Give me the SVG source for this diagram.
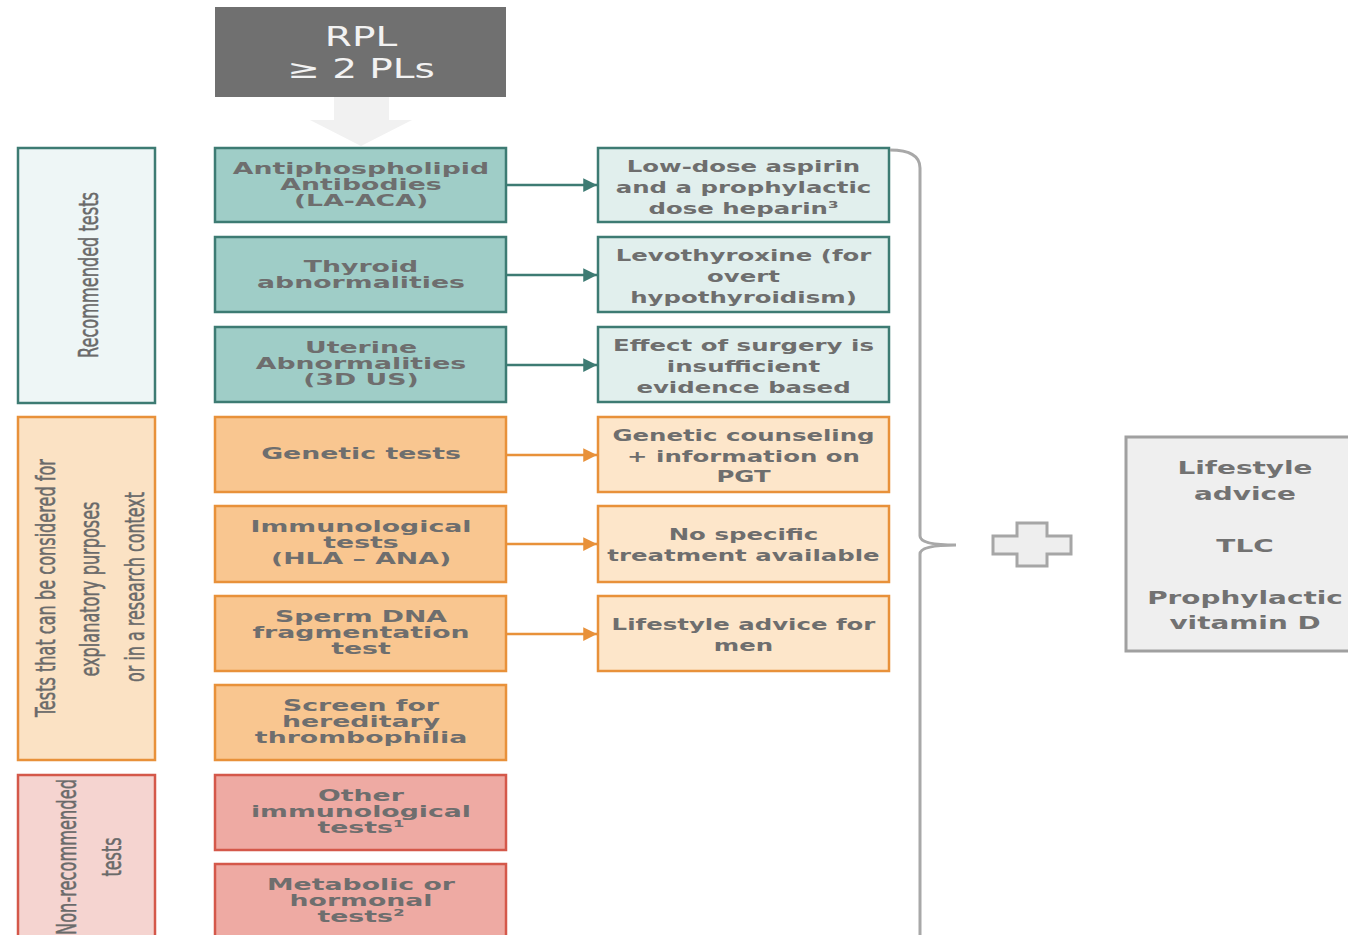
<svg xmlns="http://www.w3.org/2000/svg" width="1348" height="935" viewBox="0 0 1348 935">
<defs>
<style>
.tm{font-family:"DejaVu Sans","Liberation Sans",sans-serif;font-weight:bold;font-size:16.5px;fill:#6e6e6e;text-anchor:middle}
.tr{font-family:"DejaVu Sans","Liberation Sans",sans-serif;font-weight:bold;font-size:16.5px;fill:#6e6e6e;text-anchor:middle}
.tg{font-family:"DejaVu Sans","Liberation Sans",sans-serif;font-weight:bold;font-size:18px;fill:#727272;text-anchor:middle}
.tt{font-family:"DejaVu Sans","Liberation Sans",sans-serif;font-size:26px;fill:#f2f2f2;text-anchor:middle}
.tc{font-family:"DejaVu Sans Condensed","Liberation Sans",Arial,sans-serif;font-size:27px;fill:#6a6a6a;stroke:#6a6a6a;stroke-width:0.5;text-anchor:middle}
.teal{fill:#9fcdc7;stroke:#3d7b73;stroke-width:2.5}
.teall{fill:#e1efed;stroke:#3d7b73;stroke-width:2.5}
.tealc{fill:#eef6f6;stroke:#3d7b73;stroke-width:2.5}
.org{fill:#f9c690;stroke:#e8913a;stroke-width:2.5}
.orgl{fill:#fde6ca;stroke:#e8913a;stroke-width:2.5}
.orgc{fill:#fbe2c4;stroke:#e8913a;stroke-width:2.5}
.red{fill:#eeaaa3;stroke:#d4584a;stroke-width:2.5}
.redc{fill:#f5d4d0;stroke:#d4584a;stroke-width:2.5}
.at{stroke:#3d7b73;stroke-width:2.5;fill:none;marker-end:url(#mt)}
.ao{stroke:#e8913a;stroke-width:2.5;fill:none;marker-end:url(#mo)}
</style>
<marker id="mt" viewBox="0 0 10 10" refX="10" refY="5" markerWidth="5.5" markerHeight="5.5" orient="auto" markerUnits="strokeWidth"><path d="M0,0 L10,5 L0,10 Z" fill="#3d7b73"/></marker>
<marker id="mo" viewBox="0 0 10 10" refX="10" refY="5" markerWidth="5.5" markerHeight="5.5" orient="auto" markerUnits="strokeWidth"><path d="M0,0 L10,5 L0,10 Z" fill="#e8913a"/></marker>
</defs>
<rect width="1348" height="935" fill="#ffffff"/>

<g id="top">
<rect x="215" y="7" width="291" height="90" fill="#707070"/>
<text class="tt" transform="translate(361,0) scale(1.5,1)"><tspan x="0" y="46">RPL</tspan><tspan x="0" y="78">≥ 2 PLs</tspan></text>
<path d="M334,97 H389 V120 H412 L361,146 L310,120 H334 Z" fill="#f1f1f1"/>
</g>

<g id="cat-recommended">
<rect class="tealc" x="18" y="148" width="137" height="255"/>
<text class="tc" transform="translate(98,275) rotate(-90)" x="0" y="0" textLength="166" lengthAdjust="spacingAndGlyphs">Recommended tests</text>
</g>
<g id="cat-considered">
<rect class="orgc" x="18" y="417" width="137" height="343"/>
<text class="tc" transform="translate(55,588) rotate(-90)" x="0" y="0" textLength="258" lengthAdjust="spacingAndGlyphs">Tests that can be considered for</text>
<text class="tc" transform="translate(99,589) rotate(-90)" x="0" y="0" textLength="175" lengthAdjust="spacingAndGlyphs">explanatory purposes</text>
<text class="tc" transform="translate(144,587) rotate(-90)" x="0" y="0" textLength="190" lengthAdjust="spacingAndGlyphs">or in a research context</text>
</g>
<g id="cat-nonrecommended">
<rect class="redc" x="18" y="775" width="137" height="170"/>
<text class="tc" transform="translate(76,857) rotate(-90)" x="0" y="0" textLength="156" lengthAdjust="spacingAndGlyphs">Non-recommended</text>
<text class="tc" transform="translate(121,857) rotate(-90)" x="0" y="0" textLength="39" lengthAdjust="spacingAndGlyphs">tests</text>
</g>

<g id="test-apa">
<rect class="teal" x="215" y="148" width="291" height="74"/>
<text class="tm" transform="translate(361,0) scale(1.62,1)"><tspan x="0" y="174">Antiphospholipid</tspan><tspan x="0" y="190">Antibodies</tspan><tspan x="0" y="206">(LA-ACA)</tspan></text>
</g>
<g id="test-thyroid">
<rect class="teal" x="215" y="237" width="291" height="75"/>
<text class="tm" transform="translate(361,0) scale(1.62,1)"><tspan x="0" y="272">Thyroid</tspan><tspan x="0" y="288">abnormalities</tspan></text>
</g>
<g id="test-uterine">
<rect class="teal" x="215" y="327" width="291" height="75"/>
<text class="tm" transform="translate(361,0) scale(1.62,1)"><tspan x="0" y="353">Uterine</tspan><tspan x="0" y="369">Abnormalities</tspan><tspan x="0" y="385">(3D US)</tspan></text>
</g>
<g id="test-genetic">
<rect class="org" x="215" y="417" width="291" height="75"/>
<text class="tm" transform="translate(361,0) scale(1.62,1)"><tspan x="0" y="459">Genetic tests</tspan></text>
</g>
<g id="test-immuno">
<rect class="org" x="215" y="506" width="291" height="76"/>
<text class="tm" transform="translate(361,0) scale(1.62,1)"><tspan x="0" y="532">Immunological</tspan><tspan x="0" y="548">tests</tspan><tspan x="0" y="564">(HLA – ANA)</tspan></text>
</g>
<g id="test-sperm">
<rect class="org" x="215" y="596" width="291" height="75"/>
<text class="tm" transform="translate(361,0) scale(1.62,1)"><tspan x="0" y="622">Sperm DNA</tspan><tspan x="0" y="638">fragmentation</tspan><tspan x="0" y="654">test</tspan></text>
</g>
<g id="test-thrombophilia">
<rect class="org" x="215" y="685" width="291" height="75"/>
<text class="tm" transform="translate(361,0) scale(1.62,1)"><tspan x="0" y="711">Screen for</tspan><tspan x="0" y="727">hereditary</tspan><tspan x="0" y="743">thrombophilia</tspan></text>
</g>
<g id="test-other-immuno">
<rect class="red" x="215" y="775" width="291" height="75"/>
<text class="tm" transform="translate(361,0) scale(1.62,1)"><tspan x="0" y="801">Other</tspan><tspan x="0" y="817">immunological</tspan><tspan x="0" y="833">tests¹</tspan></text>
</g>
<g id="test-metabolic">
<rect class="red" x="215" y="864" width="291" height="80"/>
<text class="tm" transform="translate(361,0) scale(1.62,1)"><tspan x="0" y="890">Metabolic or</tspan><tspan x="0" y="906">hormonal</tspan><tspan x="0" y="922">tests²</tspan></text>
</g>

<g id="tx-aspirin">
<rect class="teall" x="598" y="148" width="291" height="74"/>
<text class="tr" transform="translate(743.5,0) scale(1.48,1)"><tspan x="0" y="172">Low-dose aspirin</tspan><tspan x="0" y="193">and a prophylactic</tspan><tspan x="0" y="214">dose heparin³</tspan></text>
</g>
<g id="tx-levo">
<rect class="teall" x="598" y="237" width="291" height="75"/>
<text class="tr" transform="translate(743.5,0) scale(1.48,1)"><tspan x="0" y="261">Levothyroxine (for</tspan><tspan x="0" y="282">overt</tspan><tspan x="0" y="303">hypothyroidism)</tspan></text>
</g>
<g id="tx-surgery">
<rect class="teall" x="598" y="327" width="291" height="75"/>
<text class="tr" transform="translate(743.5,0) scale(1.48,1)"><tspan x="0" y="351">Effect of surgery is</tspan><tspan x="0" y="372">insufficient</tspan><tspan x="0" y="393">evidence based</tspan></text>
</g>
<g id="tx-counseling">
<rect class="orgl" x="598" y="417" width="291" height="75"/>
<text class="tr" transform="translate(743.5,0) scale(1.48,1)"><tspan x="0" y="441">Genetic counseling</tspan><tspan x="0" y="462">+ information on</tspan><tspan x="0" y="482">PGT</tspan></text>
</g>
<g id="tx-nospecific">
<rect class="orgl" x="598" y="506" width="291" height="76"/>
<text class="tr" transform="translate(743.5,0) scale(1.48,1)"><tspan x="0" y="540">No specific</tspan><tspan x="0" y="561">treatment available</tspan></text>
</g>
<g id="tx-lifestyle-men">
<rect class="orgl" x="598" y="596" width="291" height="75"/>
<text class="tr" transform="translate(743.5,0) scale(1.48,1)"><tspan x="0" y="630">Lifestyle advice for</tspan><tspan x="0" y="651">men</tspan></text>
</g>

<g id="general">
<rect x="1126" y="437" width="236" height="214" fill="#efefef" stroke="#a0a0a0" stroke-width="3"/>
<text class="tg" transform="translate(1245,0) scale(1.55,1)"><tspan x="0" y="474">Lifestyle</tspan><tspan x="0" y="500">advice</tspan><tspan x="0" y="552">TLC</tspan><tspan x="0" y="604">Prophylactic</tspan><tspan x="0" y="629">vitamin D</tspan></text>
</g>

<g id="plus">
<path d="M1017,523 H1047 V536 H1071 V554 H1047 V566 H1017 V554 H993 V536 H1017 Z" fill="#eeeeee" stroke="#a6a6a6" stroke-width="3"/>
</g>

<g id="connectors">
<line class="at" x1="506" y1="185" x2="597" y2="185"/>
<line class="at" x1="506" y1="275" x2="597" y2="275"/>
<line class="at" x1="506" y1="365" x2="597" y2="365"/>
<line class="ao" x1="506" y1="455" x2="597" y2="455"/>
<line class="ao" x1="506" y1="544" x2="597" y2="544"/>
<line class="ao" x1="506" y1="634" x2="597" y2="634"/>
<path d="M890,150 Q920,150 920,168 L920,536 Q920,545 956,545 Q920,545 920,554 L920,940" fill="none" stroke="#a8a8a8" stroke-width="3"/>
</g>
</svg>
